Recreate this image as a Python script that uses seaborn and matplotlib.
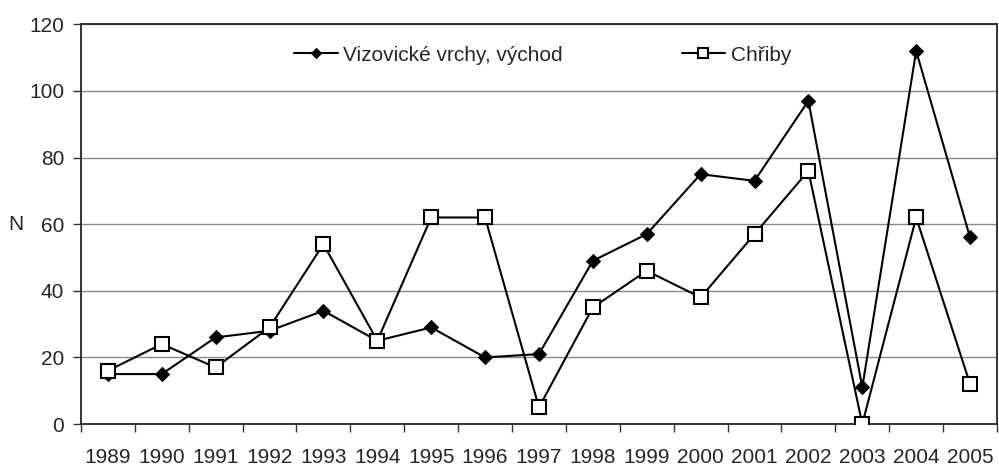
import matplotlib
matplotlib.use("Agg")
import matplotlib.pyplot as plt
import seaborn as sns
import pandas as pd
import numpy as np

years = [1989, 1990, 1991, 1992, 1993, 1994, 1995, 1996, 1997,
         1998, 1999, 2000, 2001, 2002, 2003, 2004, 2005]
vizovice = [15, 15, 26, 28, 34, 25, 29, 20, 21, 49, 57, 75, 73, 97, 11, 112, 56]
chriby = [16, 24, 17, 29, 54, 25, 62, 62, 5, 35, 46, 38, 57, 76, 0, 62, 12]

sns.set_theme(style="white")
plt.rcParams['font.family'] = ['Liberation Sans', 'DejaVu Sans']

df = pd.DataFrame({"pos": np.arange(len(years)), "Vizovické vrchy, východ": vizovice, "Chřiby": chriby})

fig = plt.figure(figsize=(9.99, 4.66), dpi=100)
ax = fig.add_axes([0.081, 0.09, 0.917, 0.858])

sns.lineplot(data=df, x="pos", y="Vizovické vrchy, východ", ax=ax, color="black", lw=1.5,
             marker="D", markersize=7.5, markerfacecolor="black", markeredgecolor="black",
             label="Vizovické vrchy, východ", zorder=3)
sns.lineplot(data=df, x="pos", y="Chřiby", ax=ax, color="black", lw=1.5,
             marker="s", markersize=10.5, markerfacecolor="white", markeredgecolor="black",
             markeredgewidth=1.5, label="Chřiby", zorder=4)

ax.set_xlim(-0.5, len(years) - 0.5)
ax.set_ylim(0, 120)
ax.set_yticks(range(0, 121, 20))
ax.yaxis.grid(True, color="#8a8a8a", lw=1)
ax.set_axisbelow(True)

# boundary ticks like in the original, labels in the middle of categories
ax.set_xticks(np.arange(len(years) + 1) - 0.5)
ax.set_xticklabels([])
ax.set_xticks(np.arange(len(years)), minor=True)
ax.set_xticklabels([str(y) for y in years], minor=True)
ax.tick_params(axis="x", which="major", direction="out", length=6, width=1, color="#333333", bottom=True)
ax.tick_params(axis="x", which="minor", length=0, pad=17, labelsize=15)
ax.tick_params(axis="y", direction="out", length=6, width=1, color="#333333", left=True, labelsize=15, pad=6)

for s in ax.spines.values():
    s.set_color("#333333")
    s.set_linewidth(1.4)

ax.set_xlabel("")
ax.set_ylabel("N", rotation=0, fontsize=15, va="center", ha="center")
ax.yaxis.set_label_coords(-0.0709, 0.5)

ax.legend(loc="center", bbox_to_anchor=(0.504, 0.9225), ncol=2, frameon=False,
          fontsize=15, handlelength=2.1, handletextpad=0.25, columnspacing=5.7,
          markerscale=0.65)

fig.savefig("out.png", dpi=100)
